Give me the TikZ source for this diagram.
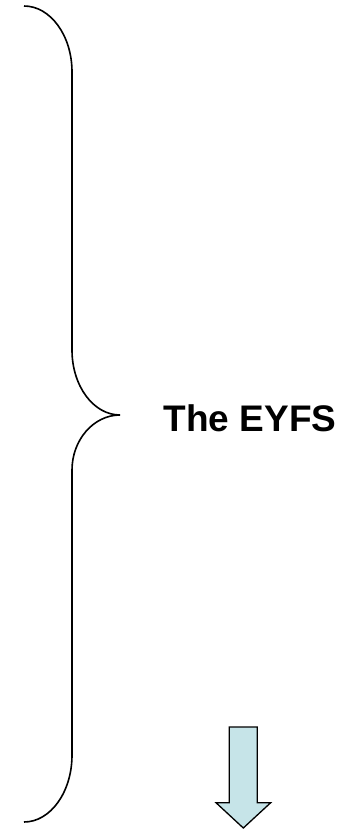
\documentclass[tikz,border=0pt]{standalone}
\usepackage{fontspec}
\setmainfont{Liberation Sans}
\usepackage{tikz}
\usetikzlibrary{positioning}
\definecolor{arrowfill}{RGB}{198,228,232}

\begin{document}
\begin{tikzpicture}[
        x=1pt, y=-1pt,
        brace/.style={draw=black, line width=1.6pt},
        label/.style={font=\fontsize{37}{41}\selectfont\bfseries, inner sep=0pt, anchor=base},
        downarrow/.style={draw=black, line width=1.3pt, fill=arrowfill, line join=miter}
    ]
        \useasboundingbox (0,0) rectangle (340,830);

        % Klammer
        \draw[brace] (24,6) .. controls (50.5,6) and (72,35.6) .. (72,72)
            -- (72,350) .. controls (72,386) and (93.5,415) .. (120,415)
            .. controls (93.5,415) and (72,440) .. (72,470)
            -- (72,755) .. controls (72,792) and (50.5,822) .. (24,822);

        % Text
        \node[label] (eyfs) at (250,431.5) {The EYFS};

        % Pfeil
        \draw[downarrow] (229.3,727) -- (257.3,727) -- (257.3,802.7) -- (270.7,802.7)
            -- (243.3,828) -- (216,802.7) -- (229.3,802.7) -- cycle;

    \end{tikzpicture}
\end{document}
